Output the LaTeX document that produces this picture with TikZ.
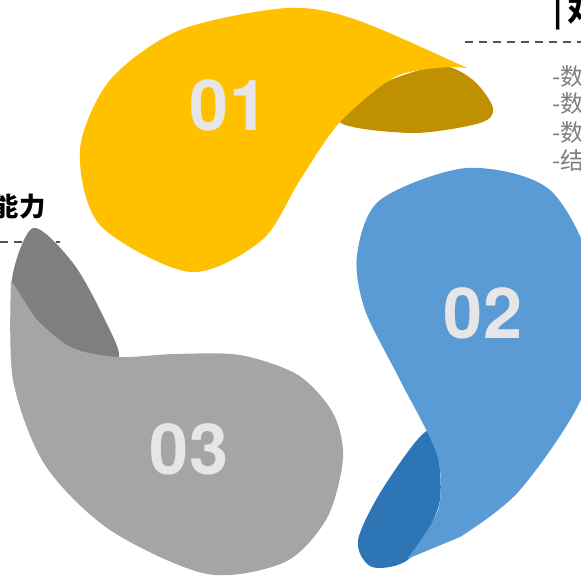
\documentclass[tikz,border=0pt]{standalone}
\usepackage{fontspec}
\setmainfont{TeX Gyre Heros}
\newfontfamily\cjk{Noto Sans CJK SC}
\usepackage{tikz}
\usetikzlibrary{positioning}
\definecolor{petalyellow}{RGB}{255,192,0}
\definecolor{foldyellow}{RGB}{191,144,0}
\definecolor{petalblue}{RGB}{91,155,213}
\definecolor{foldblue}{RGB}{46,117,182}
\definecolor{petalgray}{RGB}{165,165,165}
\definecolor{foldgray}{RGB}{127,127,127}
\definecolor{numgray}{RGB}{230,230,230}
\definecolor{rulecolor}{RGB}{68,84,106}
\definecolor{itemgray}{RGB}{127,127,127}

\tikzset{
  petalnum/.style={text=numgray, font=\fontsize{40}{40}\selectfont\bfseries, inner sep=0pt},
  guide/.style={rulecolor, line width=0.7pt, dash pattern=on 4.5pt off 3.5pt},
  item/.style={text=itemgray, font=\cjk\fontsize{13.5}{15}\selectfont, inner sep=0pt, anchor=west}
}

\begin{document}
\begin{tikzpicture}[x=0.02cm, y=-0.02cm]
  \useasboundingbox (0,0) rectangle (581,576);
  \clip (0,0) rectangle (581,576);

  % Guide lines behind the petals
  \draw[guide] (465,42) -- (581,42);
  \draw[guide] (0,242) -- (60,242);

  % Petal 01 (yellow)
  \fill[foldyellow] plot[smooth cycle] coordinates {(340,122) (413,133) (480,123) (493,108) (473,80) (440,66) (380,85)};
  \fill[petalyellow] plot[smooth] coordinates {(467,68) (357,20) (287,8) (180,30) (110,80) (80,150) (100,225) (190,272) (262,240) (300,180) (340,122) (397,76) (453,67)} -- cycle;

  % Petal 02 (blue)
  \fill[foldblue] plot[smooth cycle] coordinates {(430,430) (385,485) (358,540) (372,567) (410,558) (440,500)};
  \fill[petalblue] plot[smooth] coordinates {(407,559) (438,510) (437,455) (400,380) (365,310) (357,255) (380,200) (467,168) (550,190) (595,280) (585,390) (520,490) (460,537)} -- cycle;

  % Petal 03 (gray)
  \fill[foldgray] plot[smooth cycle] coordinates {(12,282) (33,228) (73,263) (105,320) (118,358) (70,347) (35,318)};
  \fill[petalgray] plot[smooth] coordinates {(11,280) (13,380) (45,465) (110,530) (207,574) (285,562) (327,518) (343,458) (333,413) (298,375) (240,355) (175,354) (117,357) (70,347) (35,318)} -- cycle;

  % Numbers
  \node[petalnum] (n1) at (229,105) {01};
  \node[petalnum] (n2) at (483,313) {02};
  \node[petalnum] (n3) at (189,449) {03};

  % Text at the edges
  \node[font=\cjk\bfseries\fontsize{17}{18}\selectfont, inner sep=0pt, anchor=base west] (title) at (553,21) {|\,对};
  \node[item] (i1) at (552,77) {-数};
  \node[item] (i2) at (552,104) {-数};
  \node[item] (i3) at (552,133) {-数};
  \node[item] (i4) at (552,160) {-结};
  \node[font=\cjk\bfseries\fontsize{15}{17}\selectfont, inner sep=0pt, anchor=east] (skill) at (46,207) {能力};
\end{tikzpicture}
\end{document}
